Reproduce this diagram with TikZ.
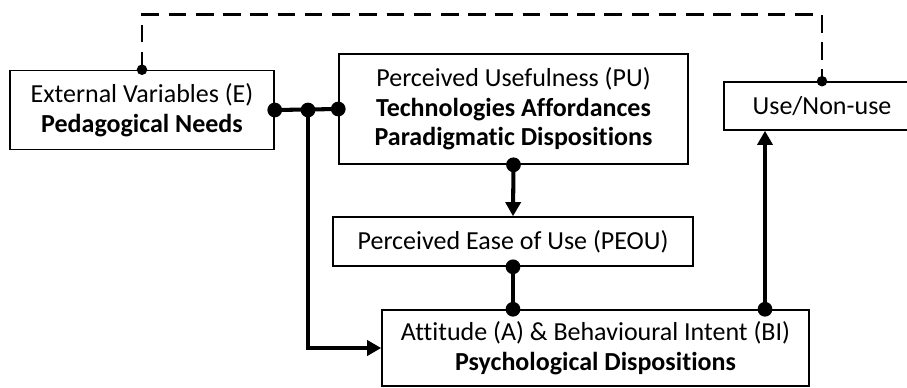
\documentclass[tikz,border=0pt]{standalone}
\usepackage{fontspec}
\setmainfont{Carlito}[Ligatures=NoCommon]
\usetikzlibrary{arrows.meta}
\tikzset{
  every box/.style={draw,line width=0.9pt,align=center,inner sep=0pt,
    font=\fontsize{14.8}{16.8}\selectfont},
  link/.style={line width=2.3pt},
  feedback/.style={line width=1.6pt,dash pattern=on 10pt off 5.5pt},
  tip/.style={-{Triangle[length=8pt,width=8.5pt]}}}

\begin{document}
\begin{tikzpicture}[x=0.02cm,y=-0.02cm]
  \useasboundingbox (0,0) rectangle (907,387);
  \node [every box,minimum width=5.28cm,minimum height=1.58cm] (E) at (142,110)
    {External Variables (E)\\\textbf{Pedagogical Needs}};
  \node [every box,minimum width=6.98cm,minimum height=2.2cm] (PU) at (513.5,109)
    {Perceived Usefulness (PU)\\\textbf{Technologies Affordances}\\\textbf{Paradigmatic Dispositions}};
  \node [every box,minimum width=7.2cm,minimum height=0.98cm] (PEOU) at (513,241.5)
    {Perceived Ease of Use (PEOU)};
  \node [every box,minimum width=8.54cm,minimum height=1.52cm] (ABI) at (595.5,348)
    {Attitude (A) \& Behavioural Intent (BI)\\\textbf{Psychological Dispositions}};
  \node [every box,minimum width=3.92cm,minimum height=0.96cm] (use) at (822,106)
    {Use/Non-use};
  \coordinate (J) at (308,110);
  \coordinate (up) at (765,0);
  % feedback
  \draw [feedback] (E.north) -- ++(0,-55) -| (use.north);
  \fill (E.north) circle (3pt);
  \fill (use.north) circle (3pt);
  % links
  \draw [link] (E.east) -- (PU.west);
  \draw [link,tip] (J) |- (ABI.west);
  \draw [link,tip] (PU.south) -- (PEOU.north);
  \draw [link] (PEOU.south) -- (ABI.north -| PEOU.south);
  \draw [link,tip] (ABI.north -| up) -- (use.south -| up);
  \foreach \p in {(E.east),(J),(PU.west),(PU.south),(PEOU.south),(ABI.north -| PEOU.south),(ABI.north -| up)}
    \fill \p circle (4.2pt);
\end{tikzpicture}
\end{document}
